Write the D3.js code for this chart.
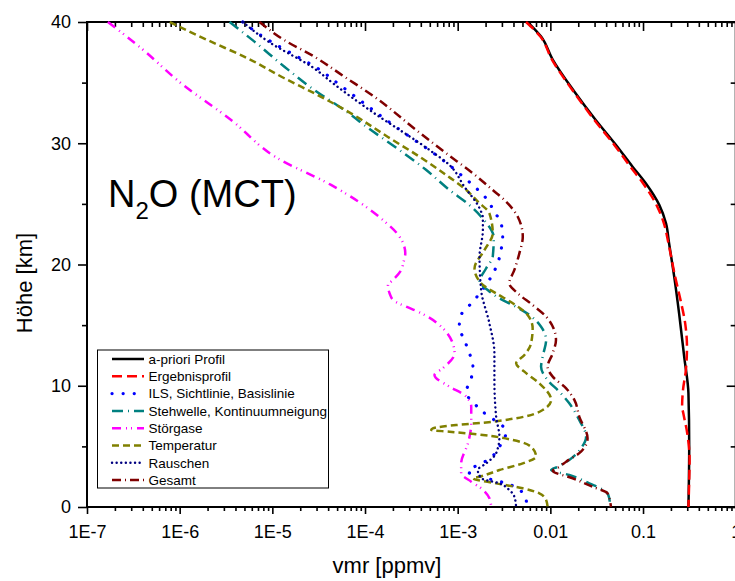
<!DOCTYPE html>
<html>
<head>
<meta charset="utf-8">
<script src="https://cdn.jsdelivr.net/npm/d3@7"></script>
<style>
  body { margin: 0; background: #fff; }
  svg { font-family: "Liberation Sans", Arial, sans-serif; }
</style>
</head>
<body>
<svg id="chart" width="735" height="581"></svg>
<script>
// Heights in km, vmr in ppmv (top to bottom)
var aprioriHeight = [40, 38.8, 36.9, 34.25, 31.9, 29.86, 28.07, 26.7, 24.9, 23.4, 21.75, 19.0, 15.97, 12.4, 9.38, 4.97, 0];
var aprioriVmr = [0.00569, 0.00794, 0.0106, 0.0182, 0.031, 0.0511, 0.0771, 0.107, 0.150, 0.177, 0.191, 0.217, 0.245, 0.278, 0.309, 0.315, 0.309];

var ergebnisHeight = [40, 38.8, 36.9, 34.25, 31.9, 29.86, 28.07, 26.7, 24.9, 23.4, 21.75, 19.0, 17.0, 15.15, 13.2, 11.3, 9.65, 8.27, 7.73, 6.08, 3.88, 2.2, 0];
var ergebnisVmr = [0.00547, 0.0078, 0.0104, 0.0178, 0.0300, 0.0490, 0.0730, 0.100, 0.140, 0.168, 0.188, 0.222, 0.255, 0.285, 0.298, 0.290, 0.270, 0.264, 0.272, 0.300, 0.318, 0.315, 0.309];

var ilsHeight = [40, 39.07, 38.38, 37.28, 36.18, 34.94, 31.23, 30.54, 29.03, 27.38, 26.42, 25.46, 24.35, 23.4, 22.29, 21.2, 20.1, 18.99, 16.93, 15.84, 14.87, 13.77, 12.68, 11.57, 10.61, 9.51, 7.86, 6.21, 4.97, 3.88, 3.32, 2.91, 2.5, 1.95, 1.54, 0.58, 0];
var ilsVmr = [4.8e-6, 6.97e-6, 9.68e-6, 1.73e-5, 3.08e-5, 5.07e-5, 2.26e-4, 3.03e-4, 5.86e-4, 1.09e-3, 1.52e-3, 2.03e-3, 2.49e-3, 2.94e-3, 3.06e-3, 2.94e-3, 2.70e-3, 2.30e-3, 1.46e-3, 1.09e-3, 1.04e-3, 1.18e-3, 1.34e-3, 1.46e-3, 1.40e-3, 1.24e-3, 1.87e-3, 3.33e-3, 2.82e-3, 2.11e-3, 1.52e-3, 1.29e-3, 1.79e-3, 3.33e-3, 4.45e-3, 5.47e-3, 5.6e-3];

var stehwelleHeight = [40, 38.38, 36.31, 34.39, 32.74, 31.09, 29.6, 27.79, 26.14, 24.9, 23.94, 22.2, 20.64, 19.69, 18.58, 17.9, 17.21, 16.66, 15.84, 14.87, 13.77, 12.4, 11.57, 10.47, 9.51, 8.55, 7.18, 5.8, 4.84, 3.88, 3.32, 3.05, 2.64, 1.95, 1.26, 0.72, 0];
var stehwelleVmr = [3.45e-6, 6.41e-6, 1.35e-5, 2.84e-5, 5.98e-5, 1.16e-4, 2.2e-4, 4.58e-4, 8.17e-4, 1.34e-3, 1.79e-3, 2.45e-3, 2.39e-3, 2.03e-3, 1.72e-3, 2.11e-3, 2.82e-3, 3.93e-3, 5.94e-3, 7.94e-3, 9.0e-3, 8.26e-3, 7.94e-3, 9.35e-3, 0.0125, 0.016, 0.0205, 0.0243, 0.0214, 0.016, 0.012, 0.0102, 0.016, 0.0263, 0.0398, 0.0433, 0.044];

var stoergaseHeight = [40, 37.83, 34.94, 31.92, 28.76, 26.56, 23.67, 22.29, 20.92, 20.23, 19.55, 18.72, 18.31, 17.63, 17.01, 16.58, 16.11, 15.69, 14.87, 13.5, 12.68, 11.44, 10.89, 9.92, 9.24, 8.27, 6.9, 5.25, 3.6, 2.78, 2.09, 1.54, 0.72, 0];
var stoergaseVmr = [1.68e-7, 3.85e-7, 1.04e-6, 3.59e-6, 1.14e-5, 4.3e-5, 1.56e-4, 2.36e-4, 2.72e-4, 2.61e-4, 2.46e-4, 2.0e-4, 1.77e-4, 1.84e-4, 2.05e-4, 2.67e-4, 3.72e-4, 4.76e-4, 6.64e-4, 8.85e-4, 9.25e-4, 6.9e-4, 5.62e-4, 8.17e-4, 1.18e-3, 1.4e-3, 1.4e-3, 1.29e-3, 1.09e-3, 1.09e-3, 1.4e-3, 1.79e-3, 2.2e-3, 2.3e-3];

var temperaturHeight = [40, 38.5, 37.0, 35.36, 34.12, 32.47, 30.54, 28.89, 27.38, 26.14, 25.18, 24.22, 22.57, 21.2, 19.69, 18.45, 17.62, 16.8, 15.84, 14.74, 13.5, 12.54, 11.85, 11.16, 10.2, 8.82, 8.0, 7.32, 6.95, 6.76, 6.49, 6.35, 6.21, 5.94, 5.53, 4.84, 4.15, 3.6, 3.05, 2.5, 2.37, 1.95, 1.54, 1.13, 0.58, 0];
var temperaturVmr = [7.83e-7, 2.01e-6, 5.43e-6, 1.35e-5, 2.84e-5, 7.05e-5, 1.75e-4, 3.87e-4, 7.52e-4, 1.24e-3, 1.65e-3, 2.2e-3, 2.39e-3, 1.95e-3, 1.52e-3, 1.79e-3, 2.6e-3, 3.93e-3, 5.69e-3, 6.44e-3, 6.19e-3, 5.25e-3, 4.27e-3, 5.25e-3, 7.6e-3, 0.0102, 8.26e-3, 4.27e-3, 1.87e-3, 9.64e-4, 5.4e-4, 5.18e-4, 8.17e-4, 1.87e-3, 3.93e-3, 6.44e-3, 7.02e-3, 5.04e-3, 2.82e-3, 1.72e-3, 1.46e-3, 2.6e-3, 5.04e-3, 7.6e-3, 9.0e-3, 9.35e-3];

var rauschenHeight = [40, 38.4, 36.2, 34.9, 32.74, 29.44, 28.2, 26.42, 24.64, 23.81, 22.85, 20.64, 17.9, 15.15, 12.68, 10.47, 7.45, 5.8, 4.43, 3.6, 3.05, 2.37, 1.95, 1.4, 0.85, 0];
var rauschenVmr = [4.8e-6, 9.0e-6, 2.8e-5, 4.6e-5, 1.12e-4, 4.97e-4, 8.17e-4, 1.18e-3, 1.72e-3, 1.87e-3, 1.87e-3, 1.72e-3, 1.79e-3, 2.2e-3, 2.49e-3, 2.49e-3, 2.6e-3, 2.82e-3, 2.6e-3, 2.03e-3, 1.65e-3, 1.79e-3, 2.82e-3, 3.61e-3, 4.09e-3, 4.27e-3];

var gesamtHeight = [40, 38.5, 37.14, 35.49, 33.84, 31.09, 29.17, 27.52, 26.14, 25.18, 23.94, 22.29, 20.92, 19.55, 18.45, 17.62, 16.66, 15.7, 14.6, 13.77, 12.68, 11.57, 10.75, 9.79, 8.82, 7.45, 5.67, 4.56, 3.74, 3.32, 2.99, 2.37, 1.67, 1.13, 0];
var gesamtVmr = [7.26e-6, 1.35e-5, 2.84e-5, 5.98e-5, 1.26e-4, 3.57e-4, 7.52e-4, 1.46e-3, 2.39e-3, 3.33e-3, 4.45e-3, 5.04e-3, 4.63e-3, 4.09e-3, 3.61e-3, 4.45e-3, 6.44e-3, 9.0e-3, 0.011, 0.0115, 0.0106, 9.35e-3, 0.0106, 0.0148, 0.0182, 0.0205, 0.0252, 0.0214, 0.0148, 0.0125, 0.0106, 0.0174, 0.0286, 0.0414, 0.0451];

var seriesNames = ["a-priori Profil", "Ergebnisprofil", "ILS, Sichtlinie, Basislinie", "Stehwelle, Kontinuumneigung",
                   "Störgase", "Temperatur", "Rauschen", "Gesamt"];

var xTickValues = [1e-7, 1e-6, 1e-5, 1e-4, 1e-3, 0.01, 0.1, 1];
var xTickLabels = ["1E-7", "1E-6", "1E-5", "1E-4", "1E-3", "0.01", "0.1", "1"];
var yTickValues = [0, 10, 20, 30, 40];
var yMinorValues = [5, 15, 25, 35];

(function() {
    // line styles for each series (same order as seriesNames)
    var styles = [
        {color: "#000000", dash: null, width: 2.5, cap: "butt"},
        {color: "#ff0000", dash: "10,5", width: 2.5, cap: "butt"},
        {color: "#0000ff", dash: "0.1,11", width: 3.2, cap: "round"},
        {color: "#008080", dash: "11,5,1,5", width: 2.5, cap: "butt"},
        {color: "#ff00ff", dash: "9,5,1,4,1,5", width: 2.5, cap: "butt"},
        {color: "#808000", dash: "7,4", width: 2.5, cap: "butt"},
        {color: "#000080", dash: "0.1,4.5", width: 2.4, cap: "round"},
        {color: "#800000", dash: "9,4,1,4", width: 2.5, cap: "butt"}
    ];

    var heights = [aprioriHeight, ergebnisHeight, ilsHeight, stehwelleHeight, stoergaseHeight, temperaturHeight, rauschenHeight, gesamtHeight];
    var values = [aprioriVmr, ergebnisVmr, ilsVmr, stehwelleVmr, stoergaseVmr, temperaturVmr, rauschenVmr, gesamtVmr];

    var plotLeft = 87, plotRight = 735.7, plotTop = 22, plotBottom = 507;

    var svg = d3.select("#chart");

    var x = d3.scaleLog().domain([1e-7, 1]).range([plotLeft, plotRight]);
    var y = d3.scaleLinear().domain([0, 40]).range([plotBottom, plotTop]);

    // minor ticks 2..9 for every decade
    var xMinor = [];
    for (var e = -7; e < 0; e++) {
        for (var m = 2; m <= 9; m++) xMinor.push(m * Math.pow(10, e));
    }

    function styleAxis(g) {
        g.select(".domain").remove();
        g.selectAll("line").attr("stroke", "#000").attr("stroke-width", 1.6);
        g.selectAll("text").attr("fill", "#000").style("font-size", "18px").style("font-family", "Liberation Sans, Arial, sans-serif");
    }

    // bottom axis
    svg.append("g").attr("transform", "translate(0," + plotBottom + ")")
        .call(d3.axisBottom(x).tickValues(xMinor).tickSize(4).tickFormat(""))
        .call(styleAxis);
    svg.append("g").attr("transform", "translate(0," + plotBottom + ")")
        .call(d3.axisBottom(x).tickValues(xTickValues).tickSize(7).tickPadding(11)
            .tickFormat((d, i) => xTickLabels[i]))
        .call(styleAxis);

    // top axis, ticks inward
    svg.append("g").attr("transform", "translate(0," + plotTop + ")")
        .call(d3.axisTop(x).tickValues(xMinor).tickSize(-5).tickFormat(""))
        .call(styleAxis);
    svg.append("g").attr("transform", "translate(0," + plotTop + ")")
        .call(d3.axisTop(x).tickValues(xTickValues).tickSize(-9).tickFormat(""))
        .call(styleAxis);

    // left axis
    svg.append("g").attr("transform", "translate(" + plotLeft + ",0)")
        .call(d3.axisLeft(y).tickValues(yMinorValues).tickSize(5).tickFormat(""))
        .call(styleAxis);
    svg.append("g").attr("transform", "translate(" + plotLeft + ",0)")
        .call(d3.axisLeft(y).tickValues(yTickValues).tickSize(9).tickPadding(7).tickFormat(d3.format("d")))
        .call(styleAxis);

    // right axis, ticks inward
    svg.append("g").attr("transform", "translate(" + plotRight + ",0)")
        .call(d3.axisRight(y).tickValues(yMinorValues).tickSize(-5).tickFormat(""))
        .call(styleAxis);
    svg.append("g").attr("transform", "translate(" + plotRight + ",0)")
        .call(d3.axisRight(y).tickValues(yTickValues).tickSize(-9).tickFormat(""))
        .call(styleAxis);

    // frame
    svg.append("rect")
        .attr("x", plotLeft).attr("y", plotTop)
        .attr("width", plotRight - plotLeft).attr("height", plotBottom - plotTop)
        .attr("fill", "none").attr("stroke", "#000").attr("stroke-width", 2);

    // curves
    var line = d3.line()
        .x((d) => x(d[1]))
        .y((d) => y(d[0]))
        .curve(d3.curveMonotoneY);

    seriesNames.forEach(function(name, i) {
        var pts = heights[i].map((h, j) => [h, values[i][j]]);
        var s = styles[i];
        svg.append("path")
            .datum(pts)
            .attr("d", line)
            .attr("fill", "none")
            .attr("stroke", s.color)
            .attr("stroke-width", s.width)
            .attr("stroke-linecap", s.cap)
            .attr("stroke-dasharray", s.dash);
    });

    // axis titles
    svg.append("text")
        .attr("x", 387)
        .attr("y", 573)
        .style("text-anchor", "middle")
        .style("font-size", "22px")
        .text("vmr [ppmv]");

    svg.append("text")
        .attr("transform", "translate(32,283) rotate(-90)")
        .style("text-anchor", "middle")
        .style("font-size", "22px")
        .text("Höhe [km]");

    // N2O (MCT) label
    var title = svg.append("text")
        .attr("x", 108)
        .attr("y", 207)
        .style("font-size", "38px");
    title.append("tspan").text("N");
    title.append("tspan").attr("dy", 12).style("font-size", "24px").text("2");
    title.append("tspan").attr("dy", -12).text("O (MCT)");

    // legend
    var legend = svg.append("g");
    legend.append("rect")
        .attr("x", 97.5).attr("y", 350)
        .attr("width", 231).attr("height", 138)
        .attr("fill", "#fff").attr("stroke", "#000").attr("stroke-width", 1);

    seriesNames.forEach(function(name, i) {
        var ly = 359 + i * 17.3;
        var s = styles[i];
        legend.append("line")
            .attr("x1", 112).attr("x2", 144)
            .attr("y1", ly).attr("y2", ly)
            .attr("stroke", s.color)
            .attr("stroke-width", s.width)
            .attr("stroke-linecap", s.cap)
            .attr("stroke-dasharray", s.dash);
        legend.append("text")
            .attr("x", 148.5)
            .attr("y", ly)
            .attr("dy", "0.36em")
            .style("font-size", "13.5px")
            .text(name);
    });
})();
</script>
</body>
</html>
